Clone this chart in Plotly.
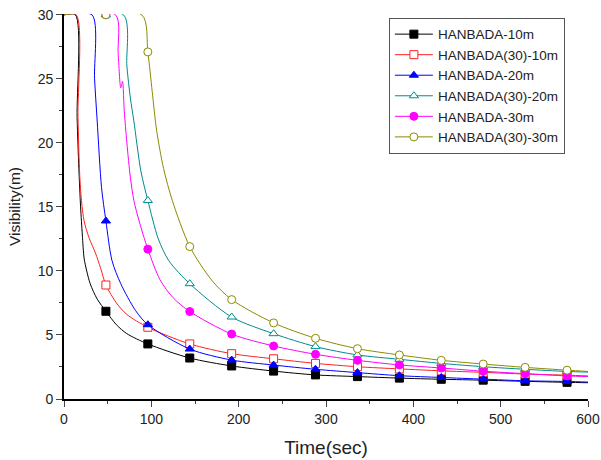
import plotly.graph_objects as go

# ---- data ----
marker_t = [48, 96, 144, 192, 240, 288, 336, 384, 432, 480, 528, 576]

names = ["HANBADA-10m", "HANBADA(30)-10m", "HANBADA-20m",
         "HANBADA(30)-20m", "HANBADA-30m", "HANBADA(30)-30m"]

# marker values at marker_t
m_h10 = [6.85, 4.3, 3.2, 2.58, 2.18, 1.88, 1.75, 1.63, 1.54, 1.47, 1.38, 1.3]
m_h30_10 = [8.9, 5.6, 4.3, 3.54, 3.14, 2.78, 2.52, 2.35, 2.2, 2.08, 1.95, 1.86]
m_h20 = [13.9, 5.8, 3.9, 3.04, 2.65, 2.32, 2.06, 1.82, 1.68, 1.55, 1.42, 1.37]
m_h30_20 = [30, 15.5, 9.0, 6.4, 5.1, 4.09, 3.44, 3.1, 2.78, 2.52, 2.32, 2.15]
m_h30 = [30, 11.7, 6.83, 5.07, 4.14, 3.49, 3.02, 2.66, 2.42, 2.17, 1.98, 1.8]
m_h30_30 = [30, 27.1, 11.9, 7.76, 5.94, 4.74, 3.93, 3.44, 3.02, 2.73, 2.47, 2.25]

# line traces (time, visibility)
l_h10_t = [0, 13, 15, 17, 19, 21, 23, 26, 30, 38, 48, 60, 72, 96, 144, 192, 240, 288, 336, 384, 432, 480, 528, 576, 600]
l_h10_v = [30, 30, 22, 18, 15, 12.8, 11, 10, 9, 7.8, 6.85, 5.8, 5.1, 4.3, 3.2, 2.58, 2.18, 1.88, 1.75, 1.63, 1.54, 1.47, 1.38, 1.3, 1.27]

l_h30_10_t = [0, 14, 16, 18, 20, 23, 28.6, 36, 42, 48, 60, 72, 96, 144, 192, 240, 288, 336, 384, 432, 480, 528, 576, 600]
l_h30_10_v = [30, 30, 22, 17.5, 15.5, 13.9, 12.6, 11.4, 10.2, 8.9, 7.5, 6.6, 5.6, 4.3, 3.54, 3.14, 2.78, 2.52, 2.35, 2.2, 2.08, 1.95, 1.86, 1.8]

l_h20_t = [0, 32, 35, 38, 43, 48, 55, 65, 82, 96, 144, 192, 240, 288, 336, 384, 432, 480, 528, 576, 600]
l_h20_v = [30, 30, 25, 21.7, 16.5, 13.9, 10.8, 9.0, 6.9, 5.8, 3.9, 3.04, 2.65, 2.32, 2.06, 1.82, 1.68, 1.55, 1.42, 1.37, 1.32]

l_h30_20_t = [0, 68, 72, 76, 80, 88, 96, 108, 120, 144, 192, 240, 288, 336, 384, 432, 480, 528, 576, 600]
l_h30_20_v = [30, 30, 26, 23.5, 21.7, 17.8, 15.5, 12.5, 10.8, 9.0, 6.4, 5.1, 4.09, 3.44, 3.1, 2.78, 2.52, 2.32, 2.15, 2.1]

l_h30_t = [0, 59, 62, 65, 67, 69, 72, 76, 80, 86, 96, 110, 125, 144, 192, 240, 288, 336, 384, 432, 480, 528, 576, 600]
l_h30_v = [30, 30, 27, 24.3, 24.8, 22.5, 20, 17.3, 15.5, 13.9, 11.7, 9.3, 7.9, 6.83, 5.07, 4.14, 3.49, 3.02, 2.66, 2.42, 2.17, 1.98, 1.8, 1.75]

l_h30_30_t = [0, 89, 96, 101, 106, 114, 124, 144, 170, 192, 240, 288, 336, 384, 432, 480, 528, 576, 600]
l_h30_30_v = [30, 30, 27.1, 24, 21, 18, 15.5, 11.9, 9.2, 7.76, 5.94, 4.74, 3.93, 3.44, 3.02, 2.73, 2.47, 2.25, 2.15]

x_ticks = [0, 100, 200, 300, 400, 500, 600]
y_ticks = [0, 5, 10, 15, 20, 25, 30]

# ---- styles ----
series = [
    (names[0], l_h10_t, l_h10_v, m_h10, "#000000", "square", "#000000"),
    (names[1], l_h30_10_t, l_h30_10_v, m_h30_10, "#ff2020", "square", "white"),
    (names[2], l_h20_t, l_h20_v, m_h20, "#0000ff", "triangle-up", "#0000ff"),
    (names[3], l_h30_20_t, l_h30_20_v, m_h30_20, "#008b8b", "triangle-up", "white"),
    (names[4], l_h30_t, l_h30_v, m_h30, "#ff00ff", "circle", "#ff00ff"),
    (names[5], l_h30_30_t, l_h30_30_v, m_h30_30, "#8b8b00", "circle", "white"),
]

fig = go.Figure()
for name, lt, lv, mv, col, sym, fill in series:
    fig.add_trace(go.Scatter(
        x=lt, y=lv, mode="lines", line=dict(color=col, width=1, shape="spline", smoothing=0.8),
        showlegend=False, hoverinfo="skip"))
    fig.add_trace(go.Scatter(
        x=marker_t, y=mv, mode="markers", cliponaxis=True,
        marker=dict(symbol=sym, size=8, color=fill, line=dict(color=col, width=1)),
        showlegend=False))
    # legend entry
    fig.add_trace(go.Scatter(
        x=[None], y=[None], mode="lines+markers", name=name,
        line=dict(color=col, width=1),
        marker=dict(symbol=sym, size=8, color=fill, line=dict(color=col, width=1))))

font_main = "Liberation Sans, Arial, sans-serif"
fig.update_layout(
    width=601, height=460,
    margin=dict(l=64, r=13, t=14, b=61, autoexpand=False),
    paper_bgcolor="white", plot_bgcolor="white",
    font=dict(family=font_main, color="#222", size=13),
    xaxis=dict(range=[0, 600], tickvals=x_ticks, ticks="outside", ticklen=6, tickwidth=1.2,
               showline=True, linecolor="black", linewidth=1.6, showgrid=False, zeroline=False,
               automargin=False, ticklabeloverflow="allow",
               minor=dict(dtick=50, ticks="outside", ticklen=3, tickwidth=1),
               title=dict(text="Time(sec)", font=dict(size=19), standoff=15),
               tickfont=dict(size=14)),
    yaxis=dict(range=[0, 30.06], tickvals=y_ticks, ticks="outside", ticklen=6, tickwidth=1.2,
               showline=True, linecolor="black", linewidth=1.6, showgrid=False, zeroline=False,
               automargin=False,
               minor=dict(dtick=2.5, ticks="outside", ticklen=3, tickwidth=1),
               ticklabeloverflow="allow",
               title=dict(text="Visibility(m)", font=dict(size=15.5), standoff=13),
               tickfont=dict(size=14)),
    legend=dict(x=0.62, y=0.99, xanchor="left", yanchor="top",
                bordercolor="#555", borderwidth=1, bgcolor="white",
                font=dict(size=13.5, color="#222"), tracegroupgap=0, itemwidth=38),
)

fig.write_html(
    "out.html",
    config={"displayModeBar": False},
    post_script="document.body.style.margin='0';document.body.style.overflow='hidden';",
)
